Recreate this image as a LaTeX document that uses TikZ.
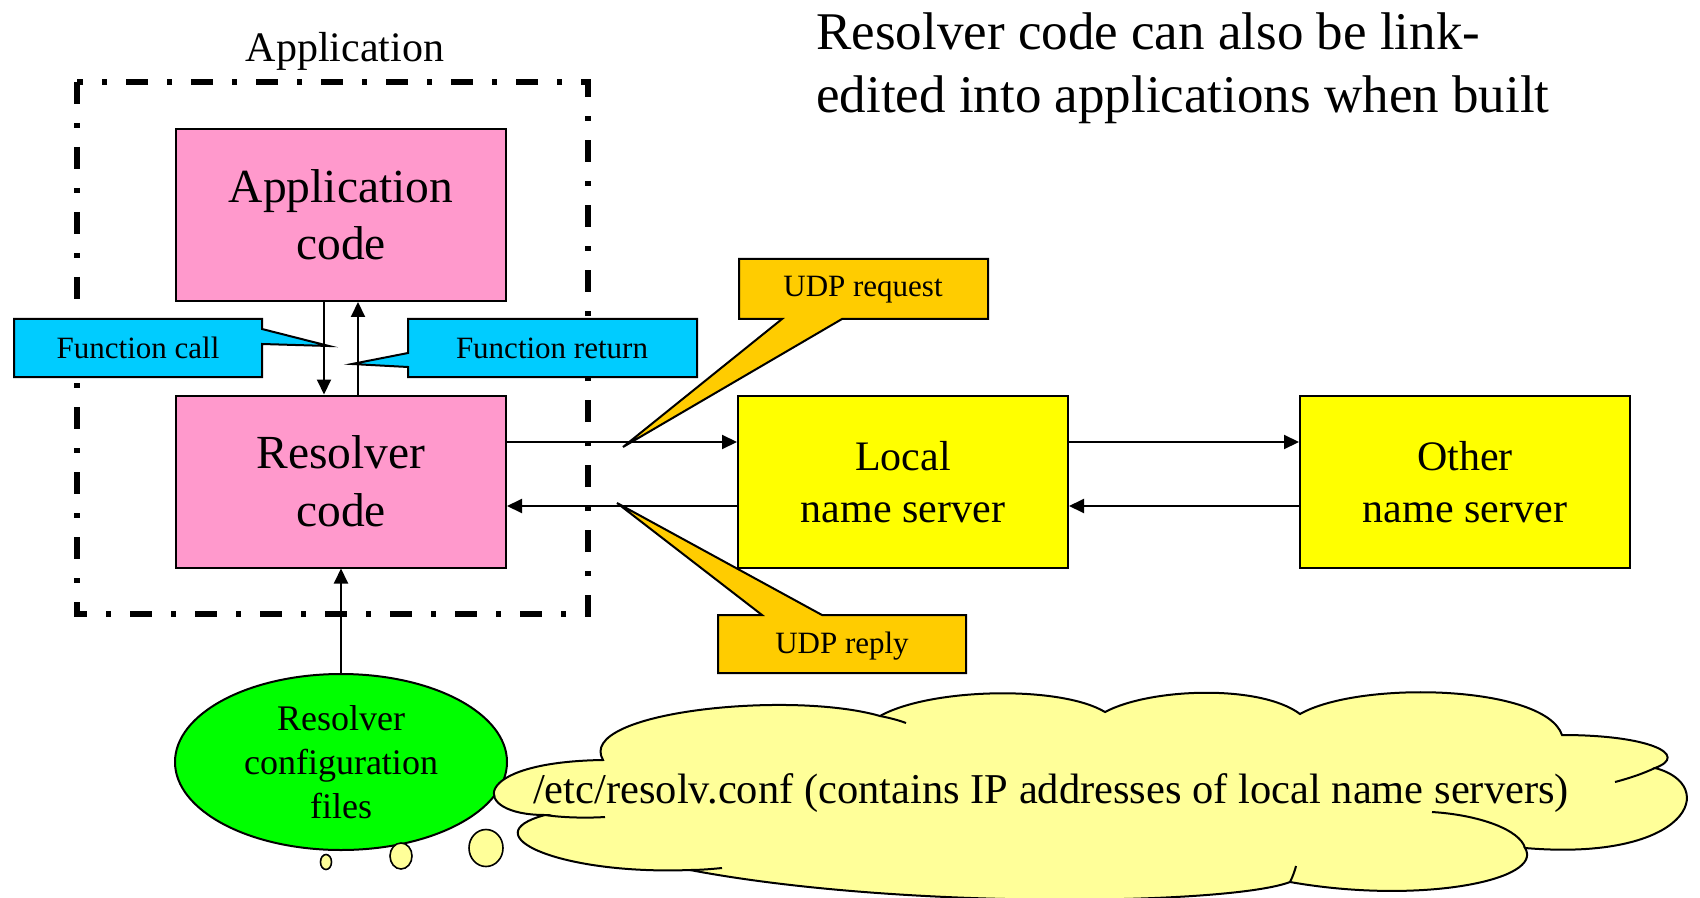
\documentclass[tikz,border=0pt]{standalone}
\usepackage{fontspec}
\setmainfont{Liberation Serif}
\usetikzlibrary{arrows.meta,shapes.geometric}
\definecolor{pinkc}{HTML}{FF99CC}
\definecolor{cyanc}{HTML}{00CCFF}
\definecolor{orangec}{HTML}{FFCC00}
\definecolor{yellowc}{HTML}{FFFF00}
\definecolor{greenc}{HTML}{00FF00}
\definecolor{cloudc}{HTML}{FFFF99}
\begin{document}
\begin{tikzpicture}[x=0.5pt,y=-0.5pt,
  box/.style={draw=black,line width=1pt,minimum width=165pt,minimum height=86pt,inner sep=0pt,align=center},
  pinkbox/.style={box,fill=pinkc,font=\fontsize{23.75}{28.75}\selectfont},
  yelbox/.style={box,fill=yellowc,font=\fontsize{21}{26}\selectfont},
  arr/.style={line width=1pt,-{Triangle[length=7.5pt,width=7pt]}},
  callout/.style={draw=black,line width=1pt,line join=miter},
  ctext/.style={font=\fontsize{15.5}{18}\selectfont,inner sep=0pt},
  frame/.style={line width=2.9pt,dash pattern=on 11pt off 9.5pt on 2.5pt off 9.5pt},
  bubble/.style={draw=black,line width=0.8pt,fill=cloudc},
  cloudline/.style={draw=black,line width=1pt},
]
\useasboundingbox (0,0) rectangle (1700,898);

% title
\node[anchor=base west,inner sep=0pt,font=\fontsize{26.5}{31.5}\selectfont] (title1) at (816,50) {Resolver code can also be link-};
\node[anchor=base west,inner sep=0pt,font=\fontsize{26.5}{31.5}\selectfont] (title2) at (816,113) {edited into applications when built};

% application frame
\node[anchor=base,inner sep=0pt,font=\fontsize{21}{25}\selectfont] (applbl) at (345,62) {Application};
\draw[frame] (77,82) rectangle (588,614);

% callouts
\path[callout,fill=cyanc] (14,319) -- (262,319) -- (262,329) -- (329,346) -- (262,344) -- (262,377) -- (14,377) -- cycle;
\node[ctext] (fcall) at (138,348) {Function call};
\path[callout,fill=cyanc] (408,319) -- (697,319) -- (697,377) -- (408,377) -- (408,367) -- (352,364) -- (408,353) -- cycle;
\node[ctext] (fret) at (552,348) {Function return};
\path[callout,fill=orangec] (739,259) -- (988,259) -- (988,319) -- (842,319) -- (623,447) -- (782,319) -- (739,319) -- cycle;
\node[ctext] (udpreq) at (863,290) {UDP request};
\path[callout,fill=orangec] (718,615) -- (762,615) -- (617,503) -- (822,615) -- (966,615) -- (966,673) -- (718,673) -- cycle;
\node[ctext] (udprep) at (842,646) {UDP reply};

% boxes
\node[pinkbox] (app) at (341,215) {Application\\code};
\node[pinkbox] (res) at (341,481.5) {Resolver\\code};
\node[yelbox] (local) at (903,482) {Local\\name server};
\node[yelbox] (other) at (1465,482) {Other\\name server};

% arrows
\draw[arr] ([xshift=-8.5pt]app.south) -- ([xshift=-8.5pt]res.north);
\draw[arr] ([xshift=8.5pt]res.north) -- ([xshift=8.5pt]app.south);
\draw[arr] (res.east |- 0,442) -- (local.west |- 0,442);
\draw[arr] (local.west |- 0,506) -- (res.east |- 0,506);
\draw[arr] (local.east |- 0,442) -- (other.west |- 0,442);
\draw[arr] (other.west |- 0,506) -- (local.east |- 0,506);

% resolver configuration
\node[ellipse,draw=black,line width=1pt,fill=greenc,minimum width=166pt,minimum height=88pt,inner sep=0pt,align=center,font=\fontsize{18}{22}\selectfont] (conf) at (341,762) {Resolver\\configuration\\files};
\draw[arr] (conf.north) -- (res.south);

% thought bubbles
\node[bubble,ellipse,minimum width=5.5pt,minimum height=7.5pt,inner sep=0pt] (b1) at (326,862) {};
\node[bubble,ellipse,minimum width=11pt,minimum height=13pt,inner sep=0pt] (b2) at (401,856) {};
\node[bubble,ellipse,minimum width=17pt,minimum height=18.5pt,inner sep=0pt] (b3) at (486,848) {};

% cloud
\path[cloudline,fill=cloudc] (545,815)
 .. controls (470,815) and (468,762) .. (603,760)
 .. controls (575,712) and (790,690) .. (880,716)
 .. controls (930,688) and (1060,685) .. (1105,712)
 .. controls (1150,688) and (1260,684) .. (1300,714)
 .. controls (1360,680) and (1545,685) .. (1562,735)
 .. controls (1650,735) and (1690,755) .. (1655,768)
 .. controls (1720,785) and (1690,862) .. (1525,848)
 .. controls (1545,880) and (1420,905) .. (1290,882)
 .. controls (1230,905) and (900,910) .. (690,870)
 .. controls (560,875) and (470,835) .. (545,815)
 -- cycle;
\node[inner sep=0pt,font=\fontsize{21.25}{25}\selectfont] (cloudtxt) at (1051,793) {/etc/resolv.conf (contains IP addresses of local name servers)};
\draw[cloudline] (545,815) .. controls (565,818) and (590,818) .. (605,817);
\draw[cloudline] (690,870) .. controls (700,870) and (712,869) .. (722,868);
\draw[cloudline] (880,716) .. controls (890,718) and (898,720) .. (906,723);
\draw[cloudline] (1655,768) .. controls (1642,774) and (1630,778) .. (1615,782);
\draw[cloudline] (1525,848) .. controls (1520,830) and (1480,815) .. (1432,812);
\draw[cloudline] (1290,882) .. controls (1293,876) and (1295,870) .. (1296,866);
\end{tikzpicture}
\end{document}
